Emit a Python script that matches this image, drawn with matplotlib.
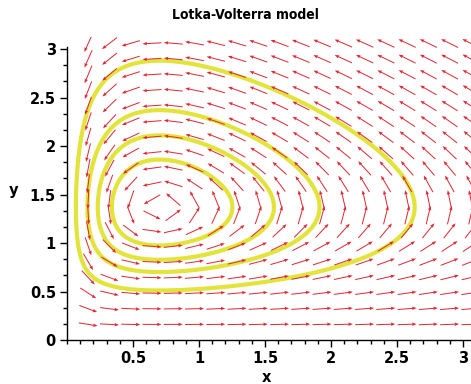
import numpy as np
import matplotlib
matplotlib.use("Agg")
import matplotlib.pyplot as plt
from matplotlib.ticker import MultipleLocator

# model: x' = x (a - b y), y' = y (-c + d x)
a, b = 1.0, 1.0 / 1.37
c, d = 0.25, 0.25 / 0.70
x_eq, y_eq = c / d, a / b

# orbits, given by the top y value each one reaches (at x = x_eq)
orbit_tops = [1.86, 2.11, 2.37, 2.88]

# direction field grid
grid_step = 0.161
grid_n = 19

x_ticks = [0.5, 1, 1.5, 2, 2.5, 3]
x_tick_labels = ["0.5", "1", "1.5", "2", "2.5", "3"]
y_ticks = [0, 0.5, 1, 1.5, 2, 2.5, 3]
y_tick_labels = ["0", "0.5", "1", "1.5", "2", "2.5", "3"]

W, H = 471, 384
xlim = (0, 3.06)
ylim = (0, 3.12)
ax_rect = [67 / W, 44 / H, (W - 67) / W, 302.6 / H]

fig = plt.figure(figsize=(W / 100, H / 100), dpi=100)
ax = fig.add_axes(ax_rect)
ax.set_xlim(*xlim)
ax.set_ylim(*ylim)


def conserved(x, y):
    return d * x - c * np.log(x) + b * y - a * np.log(y)


# orbits
gx = np.linspace(0.01, 3.3, 700)
gy = np.linspace(0.01, 3.4, 700)
GX, GY = np.meshgrid(gx, gy)
levels = sorted(conserved(x_eq, t) for t in orbit_tops)
ax.contour(GX, GY, conserved(GX, GY), levels=levels,
           colors="#e2e43c", linewidths=3.0, zorder=2)

# direction field, arrows all the same length on screen
pts = np.arange(1, grid_n + 1) * grid_step
X, Y = np.meshgrid(pts, pts)
U = X * (a - b * Y)
V = Y * (-c + d * X)
sx = W * ax_rect[2] / (xlim[1] - xlim[0])
sy = H * ax_rect[3] / (ylim[1] - ylim[0])
Up, Vp = U * sx, V * sy
mag = np.hypot(Up, Vp)
arrow_len = 19
ax.quiver(X, Y, Up / mag * arrow_len, Vp / mag * arrow_len,
          angles="uv", scale_units="dots", scale=1, units="dots",
          width=1.0, headwidth=3.5, headlength=4.5, headaxislength=4,
          pivot="middle", color="#dc2a36", zorder=3)

# axes in the Maple style
for s in ["top", "right"]:
    ax.spines[s].set_visible(False)
ax.spines["left"].set_bounds(0, 3.02)
ax.spines["left"].set_linewidth(1.0)
ax.spines["bottom"].set_linewidth(1.0)

ax.set_xticks(x_ticks)
ax.set_xticklabels(x_tick_labels)
ax.set_yticks(y_ticks)
ax.set_yticklabels(y_tick_labels)
ax.xaxis.set_minor_locator(MultipleLocator(0.1))
ax.yaxis.set_minor_locator(MultipleLocator(1 / 6))
ax.tick_params(which="major", direction="out", length=5, width=1,
               labelsize=10.5, pad=3)
ax.tick_params(which="minor", direction="out", length=3, width=1)
for lab in ax.get_xticklabels() + ax.get_yticklabels():
    lab.set_fontweight("bold")

fig.text(266 / W, 1 - 378 / H, "x", ha="center", va="center",
         fontsize=10.5, fontweight="bold")
fig.text(14 / W, 1 - 190 / H, "y", ha="center", va="center",
         fontsize=10.5, fontweight="bold")
fig.text(245 / W, 1 - 15 / H, "Lotka-Volterra model", ha="center",
         va="center", fontsize=10, fontweight="heavy",
         fontstretch="condensed")

fig.savefig("out.png", dpi=100)
